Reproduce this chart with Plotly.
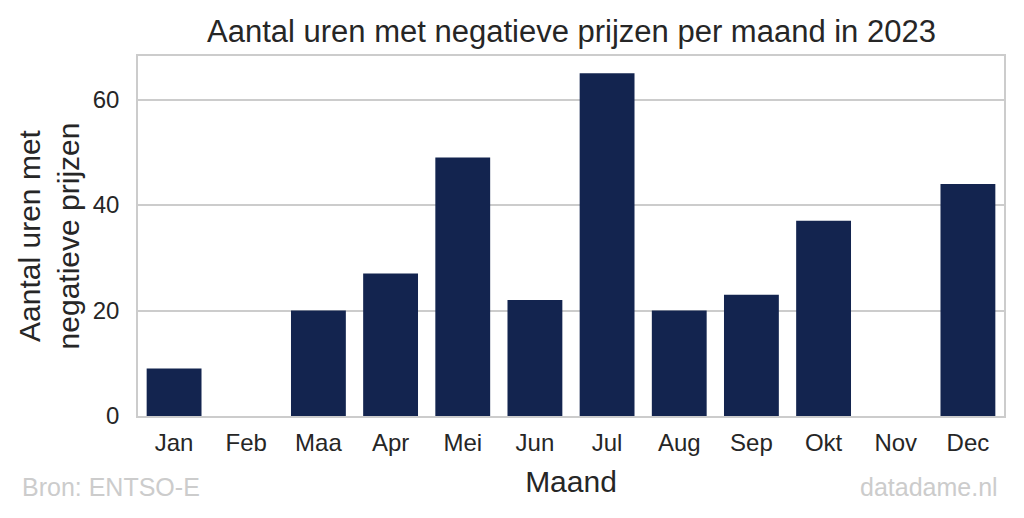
import plotly.graph_objects as go

maanden = ["Jan", "Feb", "Maa", "Apr", "Mei", "Jun", "Jul", "Aug", "Sep", "Okt", "Nov", "Dec"]
uren = [9, 0, 20, 27, 49, 22, 65, 20, 23, 37, 0, 44]
y_ticks = [0, 20, 40, 60]

FONT = "Liberation Sans, Arial, sans-serif"
TXT = "#262626"

fig = go.Figure(go.Bar(
    x=maanden, y=uren, marker=dict(color="#13244f", line=dict(width=0)),
    width=0.76, showlegend=False,
))

fig.update_layout(
    width=1008, height=502,
    paper_bgcolor="white", plot_bgcolor="white",
    margin=dict(l=130, r=12, t=48, b=94, autoexpand=False),
    font=dict(family=FONT, color=TXT, size=24),
    title=dict(text="Aantal uren met negatieve prijzen per maand in 2023",
               x=0.559, xanchor="center", y=0.953, yanchor="middle",
               font=dict(size=31, color=TXT)),
)
fig.update_xaxes(
    range=[-0.5, 11.5], showgrid=False, ticks="", tickfont=dict(size=24, color=TXT),
    ticklabelstandoff=4,
    showline=True, linecolor="#cccccc", linewidth=1.5, mirror=True,
    title=dict(text="Maand", font=dict(size=30, color=TXT), standoff=16),
    automargin=False,
)
fig.update_yaxes(
    range=[0, 68.25], tickvals=y_ticks, showgrid=True, gridcolor="#cccccc", gridwidth=1.5,
    zeroline=False, ticks="", tickfont=dict(size=24, color=TXT),
    ticklabelstandoff=12,
    showline=True, linecolor="#cccccc", linewidth=1.5, mirror=True,
    title=dict(text="Aantal uren met<br>negatieve prijzen", font=dict(size=30, color=TXT), standoff=4),
    automargin=False,
)

fig.add_annotation(text="Bron: ENTSO-E", xref="paper", yref="paper", x=-0.136, y=-0.197,
                   xanchor="left", yanchor="middle", showarrow=False,
                   font=dict(size=25, color="#cccccc"))
fig.add_annotation(text="datadame.nl", xref="paper", yref="paper", x=0.995, y=-0.197,
                   xanchor="right", yanchor="middle", showarrow=False,
                   font=dict(size=25, color="#cccccc"))

fig.write_html("out.html")
